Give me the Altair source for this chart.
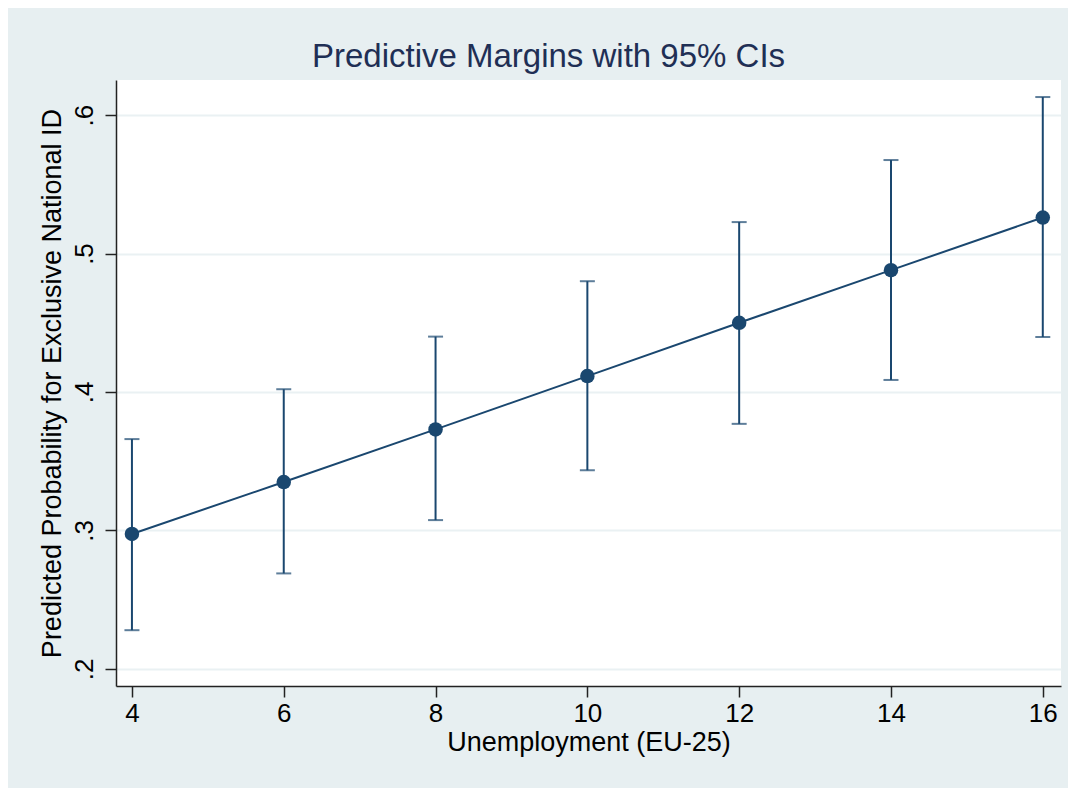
import altair as alt
import pandas as pd

unemployment = [4, 6, 8, 10, 12, 14, 16]
margin = [0.2975, 0.335, 0.373, 0.4115, 0.450, 0.488, 0.526]
ci_low = [0.228, 0.269, 0.3075, 0.3435, 0.377, 0.4087, 0.4397]
ci_high = [0.366, 0.402, 0.440, 0.480, 0.5227, 0.5675, 0.613]

df = pd.DataFrame({"x": unemployment, "m": margin, "lo": ci_low, "hi": ci_high})

NAVY = "#1a476f"
FONT = "Liberation Sans"
FS = 26
TFS = 27

xs = alt.Scale(domain=[3.79, 16.24], nice=False, zero=False)
ys = alt.Scale(domain=[0.1877, 0.6253], nice=False, zero=False)

xaxis = alt.Axis(values=[4, 6, 8, 10, 12, 14, 16], grid=False, title="Unemployment (EU-25)",
                 format="d",
                 labelFontSize=FS, titleFontSize=TFS, labelFont=FONT, titleFont=FONT,
                 labelColor="black", titleColor="black", domainColor="#222", tickColor="#222",
                 tickSize=11, labelPadding=3, titlePadding=3, titleFontWeight="normal",
                 domainWidth=1.5, tickWidth=1.5)
yaxis = alt.Axis(values=[0.2, 0.3, 0.4, 0.5, 0.6], grid=True, gridColor="#eaf1f3", gridWidth=2,
                 title="Predicted Probability for Exclusive National ID",
                 labelExpr="replace(format(datum.value, '.1f'), '0.', '.')",
                 labelAngle=-90, labelAlign="center", labelBaseline="bottom",
                 labelFontSize=FS, titleFontSize=TFS, labelFont=FONT, titleFont=FONT,
                 labelColor="black", titleColor="black", domainColor="#222", tickColor="#222",
                 tickSize=11, labelPadding=8, titlePadding=5, titleFontWeight="normal",
                 domainWidth=1.5, tickWidth=1.5)

base = alt.Chart(df)

rules = base.mark_rule(color=NAVY, strokeWidth=2).encode(
    x=alt.X("x:Q", scale=xs, axis=xaxis),
    y=alt.Y("lo:Q", scale=ys, axis=yaxis),
    y2="hi:Q",
)
cap_lo = base.mark_tick(color=NAVY, orient="horizontal", size=15, thickness=2).encode(
    x=alt.X("x:Q", scale=xs), y=alt.Y("lo:Q", scale=ys)
)
cap_hi = base.mark_tick(color=NAVY, orient="horizontal", size=15, thickness=2).encode(
    x=alt.X("x:Q", scale=xs), y=alt.Y("hi:Q", scale=ys)
)
line = base.mark_line(color=NAVY, strokeWidth=2).encode(
    x=alt.X("x:Q", scale=xs), y=alt.Y("m:Q", scale=ys)
)
pts = base.mark_point(color=NAVY, filled=True, opacity=1, size=210).encode(
    x=alt.X("x:Q", scale=xs), y=alt.Y("m:Q", scale=ys)
)

chart = alt.layer(rules, cap_lo, cap_hi, line, pts).properties(
    width=945, height=606,
    background="#e7eff1",
    padding={"left": 108, "top": 72, "right": 7, "bottom": 102},
    autosize=alt.AutoSizeParams(type="none"),
    title=alt.TitleParams("Predictive Margins with 95% CIs", font=FONT, fontSize=33,
                          fontWeight="normal", color="#1f2f55", offset=6, anchor="middle",
                          dx=-40),
).configure_view(fill="white", stroke=None)

chart.save("out.html", embed_options={"renderer": "svg", "actions": False})
